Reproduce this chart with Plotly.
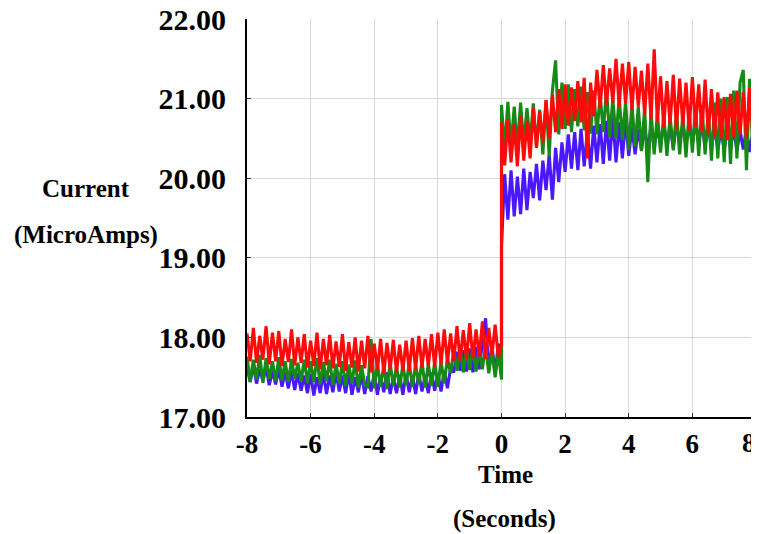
import plotly.graph_objects as go

# Time grid (seconds): pre-step samples -8.0..0.0 and post-step samples 0.0..8.0
t_pre = [round(-8 + 0.1 * i, 1) for i in range(81)]
t_post = [round(0.1 * i, 1) for i in range(81)]

# Values (MicroAmps), alternating upper/lower edge of each noisy trace
red_pre = [
    18.05, 17.70, 18.12, 17.68, 18.02, 17.72, 18.14, 17.66, 18.06, 17.70,
    18.08, 17.64, 17.98, 17.69, 18.10, 17.65, 18.00, 17.68, 18.04, 17.62,
    17.96, 17.64, 18.06, 17.60, 17.98, 17.65, 18.03, 17.61, 17.95, 17.63,
    18.04, 17.58, 17.94, 17.62, 18.00, 17.57, 17.96, 17.61, 18.02, 17.56,
    17.92, 17.59, 17.98, 17.55, 17.93, 17.60, 17.97, 17.56, 17.91, 17.58,
    17.96, 17.58, 17.99, 17.60, 18.02, 17.62, 17.98, 17.64, 18.04, 17.63,
    18.06, 17.66, 18.10, 17.68, 18.05, 17.70, 18.14, 17.71, 18.09, 17.73,
    18.18, 17.74, 18.10, 17.76, 18.20, 17.73, 18.12, 17.77, 18.16, 17.75,
    17.90,
]
red_post = [
    20.70, 20.16, 20.74, 20.20, 20.68, 20.15, 20.78, 20.22, 20.72, 20.25,
    20.88, 20.38, 20.84, 20.45, 20.98, 20.50, 21.05, 20.58, 21.12, 20.62,
    21.18, 20.66, 21.14, 20.72, 21.22, 20.70, 21.26, 20.25, 21.20, 20.78,
    21.36, 20.88, 21.42, 20.92, 21.38, 20.95, 21.50, 20.90, 21.44, 20.94,
    21.46, 20.86, 21.40, 20.90, 21.35, 20.80, 21.44, 20.74, 21.62, 20.70,
    21.28, 20.64, 21.22, 20.68, 21.30, 20.62, 21.25, 20.66, 21.20, 20.60,
    21.27, 20.64, 21.18, 20.58, 21.24, 20.55, 21.12, 20.52, 21.08, 20.50,
    21.02, 20.48, 21.06, 20.52, 21.10, 20.55, 21.08, 20.50, 21.14, 20.56,
    21.12,
]
green_pre = [
    17.76, 17.44, 17.72, 17.47, 17.78, 17.43, 17.74, 17.48, 17.70, 17.45,
    17.75, 17.46, 17.70, 17.44, 17.73, 17.48, 17.68, 17.45, 17.72, 17.43,
    17.70, 17.44, 17.74, 17.41, 17.69, 17.45, 17.72, 17.40, 17.67, 17.42,
    17.70, 17.39, 17.66, 17.42, 17.71, 17.37, 17.65, 17.40, 17.38, 17.98,
    17.36, 17.67, 17.38, 17.65, 17.35, 17.68, 17.39, 17.64, 17.37, 17.66,
    17.40, 17.68, 17.38, 17.66, 17.41, 17.70, 17.37, 17.67, 17.39, 17.69,
    17.38, 17.70, 17.42, 17.74, 17.55, 17.84, 17.58, 17.86, 17.56, 17.85,
    17.59, 17.88, 17.57, 17.86, 17.60, 17.90, 17.55, 17.84, 17.50, 17.82,
    17.47,
]
green_post = [
    20.92, 20.35, 20.96, 20.40, 20.90, 20.38, 20.95, 20.42, 20.88, 20.45,
    20.94, 20.40, 20.86, 20.30, 20.98, 20.27, 21.10, 21.48, 20.55, 21.20,
    20.62, 21.18, 20.58, 21.12, 20.65, 21.15, 20.60, 21.08, 20.56, 21.10,
    20.55, 21.05, 20.58, 21.12, 20.52, 21.00, 20.50, 21.02, 20.48, 20.96,
    20.36, 20.94, 20.40, 20.90, 20.34, 20.88, 19.95, 20.85, 20.30, 20.82,
    20.32, 20.80, 20.28, 20.78, 20.35, 20.84, 20.30, 20.80, 20.26, 20.86,
    20.32, 20.88, 20.28, 20.92, 20.30, 20.86, 20.22, 20.95, 20.25, 21.00,
    20.20, 21.02, 20.18, 21.10, 20.25, 21.20, 21.36, 20.10, 21.25, 20.30,
    21.30,
]
blue_pre = [
    17.62, 17.44, 17.65, 17.42, 17.60, 17.45, 17.63, 17.40, 17.58, 17.41,
    17.60, 17.38, 17.56, 17.36, 17.58, 17.34, 17.55, 17.33, 17.52, 17.30,
    17.54, 17.27, 17.50, 17.30, 17.55, 17.29, 17.52, 17.31, 17.56, 17.32,
    17.52, 17.30, 17.55, 17.28, 17.50, 17.31, 17.54, 17.29, 17.51, 17.32,
    17.55, 17.28, 17.52, 17.31, 17.56, 17.29, 17.50, 17.30, 17.53, 17.28,
    17.54, 17.31, 17.52, 17.29, 17.55, 17.32, 17.51, 17.30, 17.56, 17.33,
    17.55, 17.32, 17.58, 17.36, 17.62, 17.56, 17.82, 17.58, 17.84, 17.57,
    17.86, 17.56, 17.88, 17.60, 17.94, 18.24, 17.58, 17.90, 17.54, 17.92,
    17.55,
]
blue_post = [
    19.14, 20.05, 19.48, 20.10, 19.52, 20.02, 19.55, 20.12, 19.60, 20.08,
    19.75, 20.18, 19.72, 20.22, 19.85, 20.30, 19.73, 20.38, 19.95, 20.45,
    20.08, 20.55, 20.12, 20.58, 20.10, 20.62, 20.15, 20.60, 20.12, 20.66,
    20.20, 20.68, 20.18, 20.72, 20.22, 20.76, 20.20, 20.70, 20.25, 20.74,
    20.28, 20.64, 20.30, 20.62, 20.35, 20.66, 20.32, 20.68, 20.38, 20.65,
    20.40, 20.68, 20.42, 20.66, 20.38, 20.70, 20.44, 20.68, 20.42, 20.66,
    20.44, 20.70, 20.46, 20.66, 20.40, 20.68, 20.38, 20.64, 20.36, 20.62,
    20.35, 20.64, 20.38, 20.62, 20.34, 20.60, 20.36, 20.62, 20.33, 20.58,
    20.40,
]

x_ticks = [-8, -6, -4, -2, 0, 2, 4, 6, 8]
x_ticktext = ["-8", "-6", "-4", "-2", "0", "2", "4", "6", ""]
last_x_label = "8"
y_ticks = [17, 18, 19, 20, 21, 22]

series = [
    ("blue", blue_pre, blue_post, "#4b17ff"),
    ("green", green_pre, green_post, "#168a16"),
    ("red", red_pre, red_post, "#ff0a0a"),
]

fig = go.Figure()
for name, pre, post, color in series:
    fig.add_trace(go.Scatter(
        x=t_pre + t_post, y=pre + post, mode="lines", name=name,
        line=dict(color=color, width=3.1), showlegend=False,
    ))

# The page body adds an 8 px offset, so the figure is sized and placed to compensate
OFF = 8
W, H = 759 - OFF, 534 - OFF
L, T = 247 - OFF, 19 - OFF
R = W - L - (756 - 247)
B = H - T - (417 - 19)
serif = "Liberation Serif, Times New Roman, serif"
fig.update_layout(
    width=W, height=H,
    margin=dict(l=L, r=R, t=T, b=B, autoexpand=False),
    paper_bgcolor="white", plot_bgcolor="white",
    font=dict(family=serif, color="black"),
    xaxis=dict(
        range=[-8, 8.0001], tickvals=x_ticks, ticktext=x_ticktext, automargin=False,
        showgrid=True, gridcolor="#d9d9d9", gridwidth=1, zeroline=False,
        showline=True, linecolor="black", linewidth=2,
        ticks="inside", ticklen=4, tickcolor="#333333",
        tickfont=dict(family=serif, size=27, weight="bold", color="black"),
        ticklabelstandoff=2, ticklabeloverflow="allow",
    ),
    yaxis=dict(
        range=[17, 22.0001], tickvals=y_ticks, tickformat=".2f", automargin=False,
        showgrid=True, gridcolor="#d9d9d9", gridwidth=1, zeroline=False,
        showline=True, linecolor="black", linewidth=2, mirror="ticks",
        ticks="inside", ticklen=4, tickcolor="#333333",
        tickfont=dict(family=serif, size=30, weight="bold", color="black"),
        ticklabelstandoff=13, ticklabeloverflow="allow",
    ),
)

pw = W - L - R
ph = H - T - B
titles = [
    ("Current", 86, 188, 25),
    ("(MicroAmps)", 86, 235, 25),
    ("Time", 505, 474, 25),
    ("(Seconds)", 504, 519, 25),
    (last_x_label, 749, 443, 27),
]
for text, px, py, size in titles:
    fx, fy = px - OFF, py - OFF
    fig.add_annotation(
        text=text, x=(fx - L) / pw, y=(H - B - fy) / ph, xref="paper", yref="paper",
        showarrow=False, xanchor="center", yanchor="middle",
        font=dict(family=serif, size=size, weight="bold", color="black"),
    )

fig.write_html("out.html")
